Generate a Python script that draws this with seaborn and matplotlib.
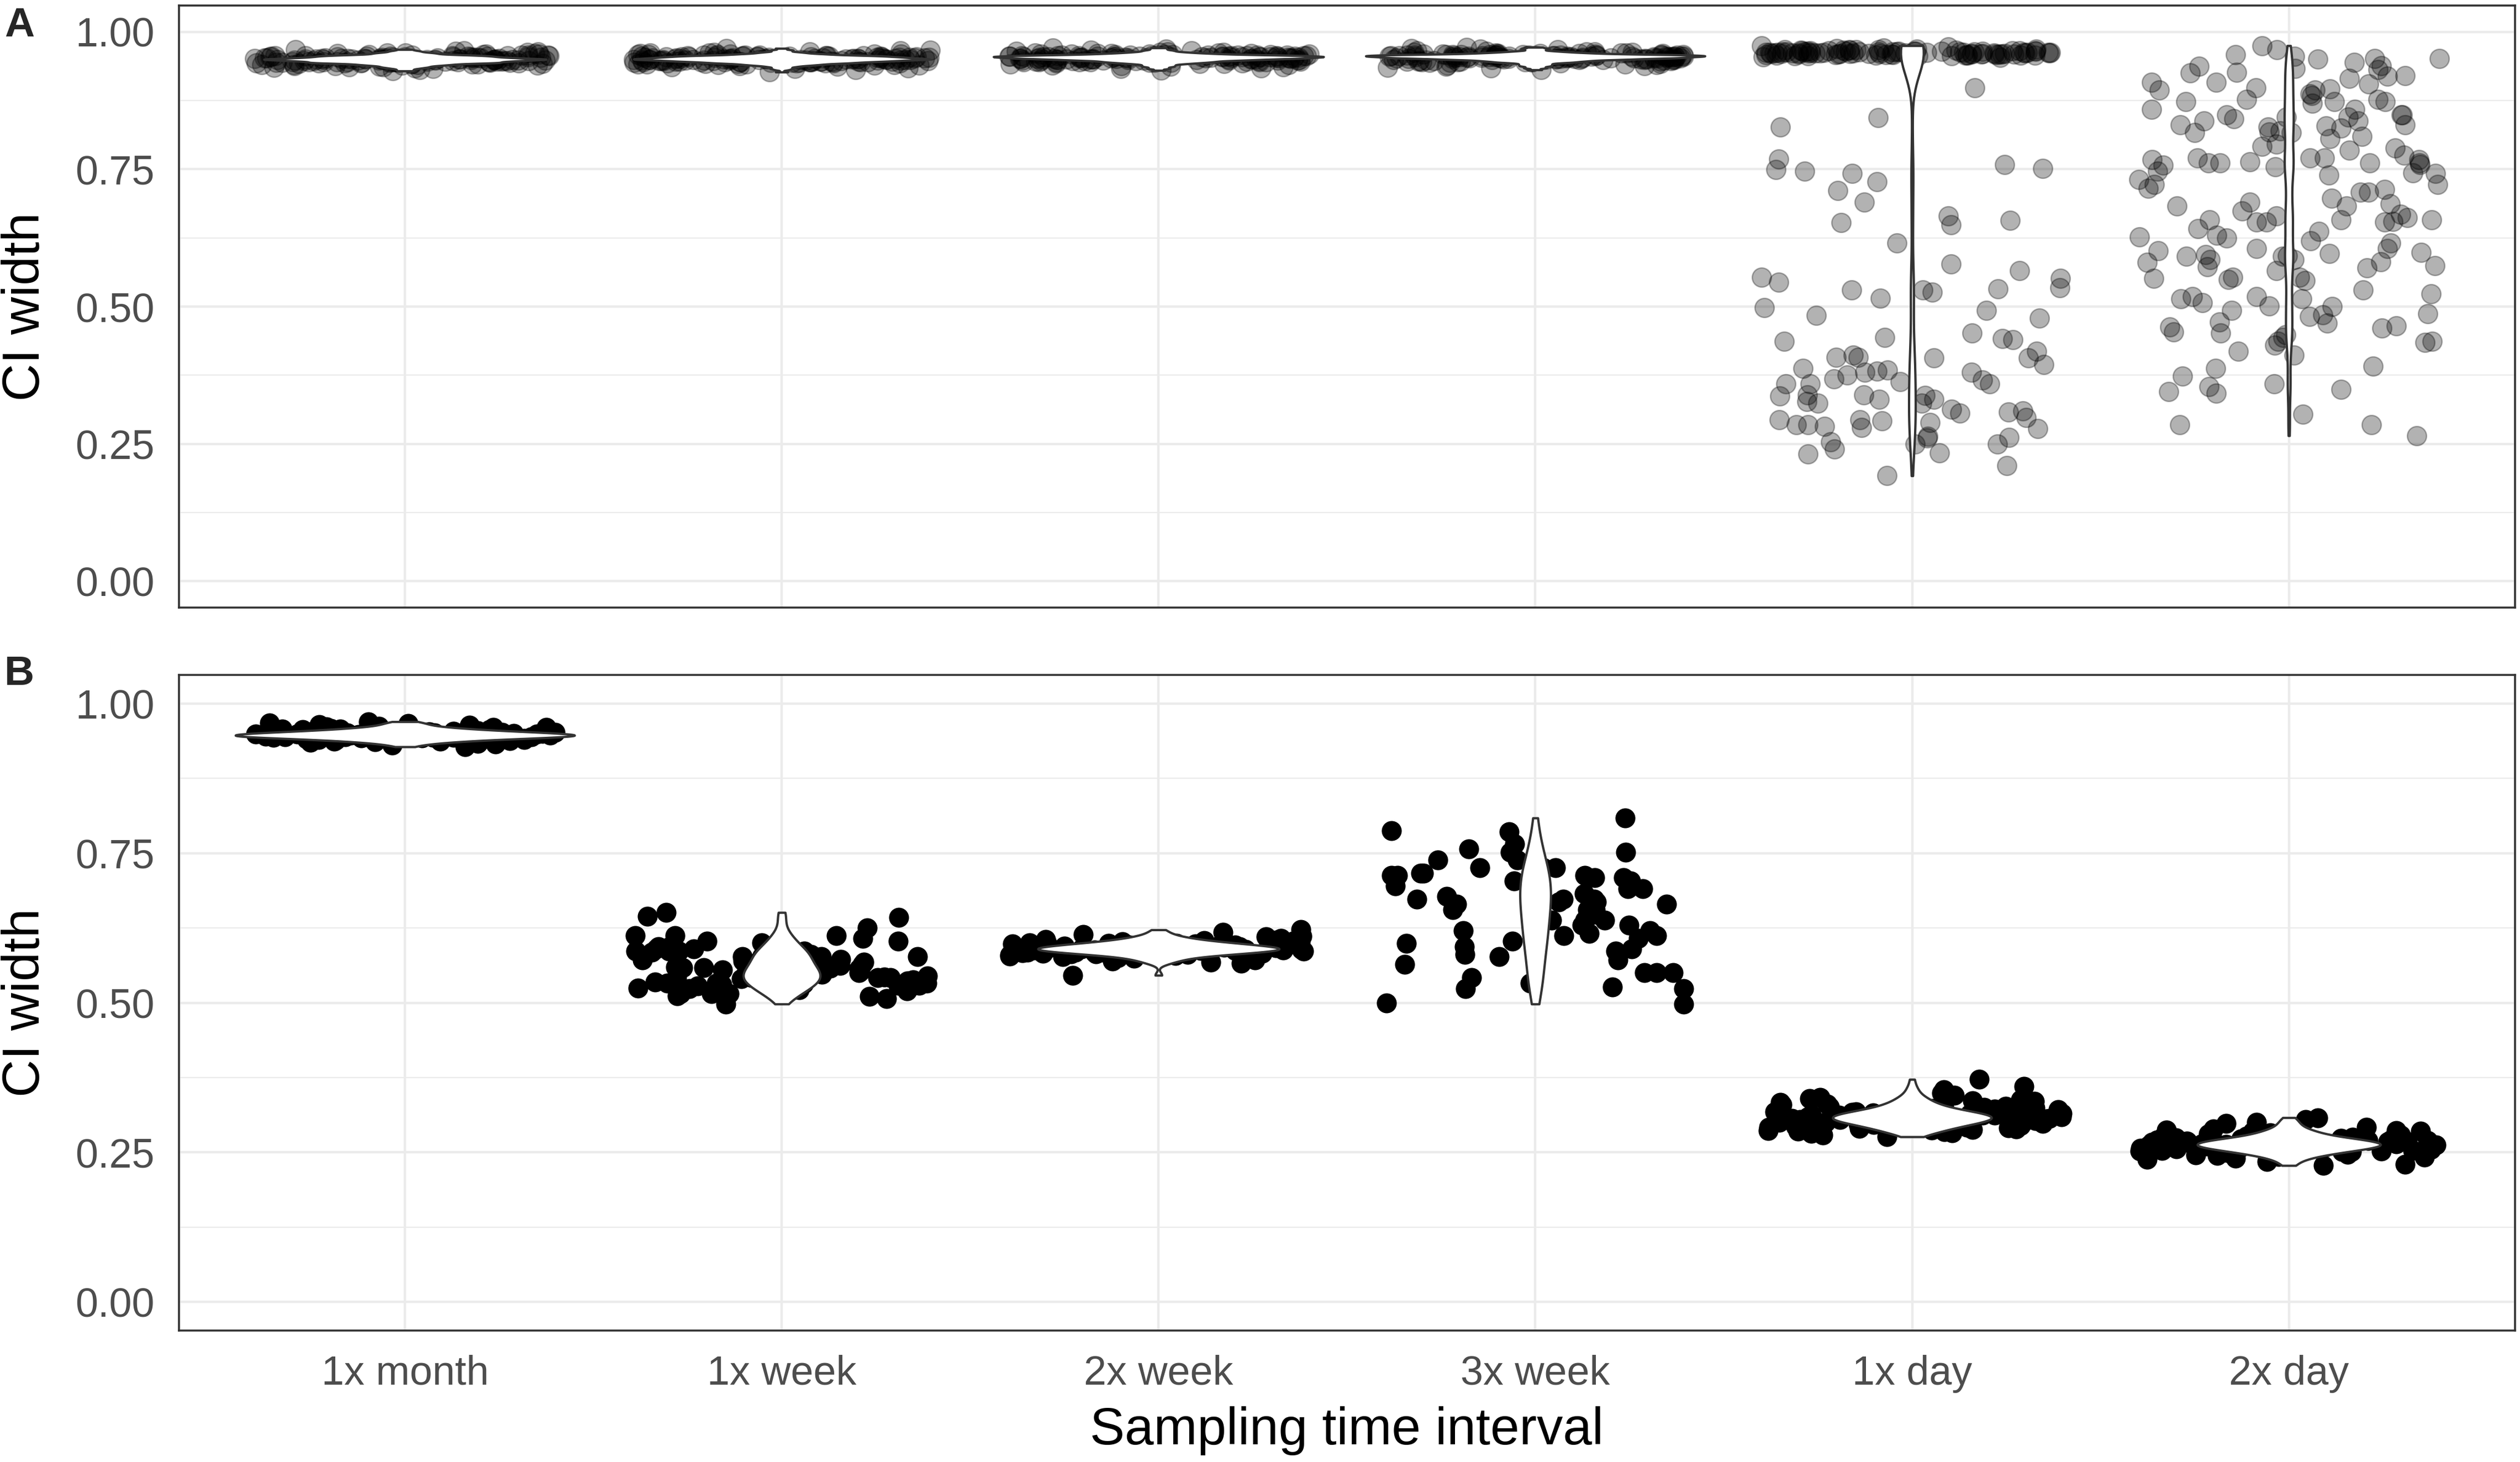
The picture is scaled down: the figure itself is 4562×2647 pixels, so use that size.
import numpy as np
import pandas as pd
import seaborn as sns
import matplotlib.pyplot as plt
from matplotlib.ticker import MultipleLocator, FormatStrFormatter

intervals = ['1x month', '1x week', '2x week', '3x week', '1x day', '2x day']

# panel A values
a_month = [0.950,0.946,0.953,0.941,0.957,0.949,0.962,0.944,0.938,0.955,0.951,0.947,0.959,0.935,0.952,0.948,
           0.943,0.956,0.961,0.940,0.950,0.954,0.945,0.931,0.958,0.949,0.942,0.953,0.965,0.947,0.951,0.939,
           0.956,0.944,0.952,0.948,0.960,0.936,0.950,0.955,0.946,0.943,0.957,0.951,0.929,0.953,0.949,0.963,
           0.945,0.941,0.954,0.950,0.947,0.958,0.937,0.952,0.944,0.956,0.948,0.966,0.942,0.951,0.955,0.946,
           0.933,0.953,0.949,0.960,0.944,0.950,0.957,0.940,0.952,0.947,0.954,0.945,0.968,0.949,0.951,0.943,
           0.948,0.952,0.944,0.956,0.950,0.941,0.954,0.947,0.958,0.945,0.951,0.939,0.953,0.949,0.961,0.946,
           0.950,0.955,0.942,0.948,0.957,0.944,0.952,0.936,0.949,0.954,0.947,0.959,0.943,0.951,0.946,0.956,
           0.940,0.953,0.948,0.964,0.945,0.950,0.955,0.938,0.952,0.947,0.957,0.944,0.950,0.953,0.934,0.949,
           0.958,0.946,0.951,0.943,0.955,0.948,0.962,0.950]
a_week1 = [0.951,0.955,0.947,0.960,0.943,0.952,0.949,0.957,0.939,0.954,0.950,0.946,0.962,0.953,0.941,0.956,
           0.948,0.958,0.936,0.951,0.945,0.953,0.967,0.949,0.944,0.955,0.950,0.927,0.957,0.947,0.952,0.940,
           0.959,0.948,0.954,0.943,0.950,0.961,0.946,0.953,0.938,0.956,0.949,0.951,0.944,0.970,0.952,0.947,
           0.955,0.942,0.958,0.950,0.934,0.953,0.948,0.956,0.945,0.951,0.963,0.949,0.954,0.941,0.957,0.946,
           0.952,0.950,0.931,0.955,0.948,0.959,0.943,0.951,0.956,0.947,0.953,0.939,0.950,0.964,0.945,0.954,
           0.949,0.953,0.946,0.957,0.951,0.942,0.955,0.948,0.960,0.944,0.952,0.950,0.937,0.954,0.947,0.958,
           0.945,0.951,0.956,0.949,0.940,0.953,0.947,0.962,0.950,0.955,0.943,0.952,0.948,0.957,0.946,0.951,
           0.933,0.954,0.949,0.959,0.944,0.952,0.956,0.947,0.950,0.966,0.945,0.953,0.948,0.955,0.941,0.951,
           0.957,0.946,0.952,0.949,0.954,0.943,0.960,0.950]
a_week2 = [0.954,0.950,0.958,0.946,0.961,0.953,0.957,0.943,0.955,0.949,0.964,0.952,0.940,0.956,0.951,0.959,
           0.947,0.954,0.971,0.950,0.945,0.957,0.953,0.962,0.930,0.955,0.948,0.958,0.952,0.944,0.956,0.960,
           0.949,0.954,0.937,0.957,0.951,0.966,0.953,0.946,0.955,0.959,0.942,0.952,0.956,0.950,0.963,0.948,
           0.954,0.958,0.933,0.955,0.951,0.957,0.945,0.960,0.953,0.949,0.956,0.969,0.952,0.947,0.955,0.958,
           0.941,0.954,0.950,0.961,0.956,0.944,0.953,0.957,0.948,0.955,0.936,0.952,0.959,0.951,0.954,0.965,
           0.953,0.957,0.949,0.960,0.955,0.946,0.952,0.958,0.943,0.956,0.951,0.962,0.954,0.948,0.957,0.939,
           0.955,0.950,0.959,0.953,0.945,0.956,0.952,0.967,0.949,0.954,0.958,0.942,0.955,0.951,0.960,0.947,
           0.953,0.956,0.934,0.952,0.957,0.950,0.954,0.963,0.948,0.955,0.951,0.958,0.944,0.953,0.956,0.949,
           0.961,0.952,0.955,0.938,0.957,0.951,0.954,0.946]
a_week3 = [0.955,0.959,0.951,0.962,0.948,0.956,0.953,0.960,0.945,0.957,0.954,0.966,0.950,0.958,0.942,0.955,
           0.961,0.952,0.957,0.947,0.972,0.954,0.959,0.950,0.956,0.934,0.958,0.953,0.963,0.949,0.955,0.960,
           0.944,0.957,0.952,0.968,0.954,0.951,0.958,0.939,0.956,0.961,0.953,0.947,0.955,0.959,0.950,0.964,
           0.952,0.957,0.931,0.954,0.958,0.949,0.956,0.962,0.953,0.945,0.957,0.955,0.970,0.951,0.958,0.954,
           0.941,0.956,0.960,0.952,0.948,0.957,0.963,0.955,0.950,0.953,0.937,0.959,0.956,0.952,0.958,0.946,
           0.954,0.958,0.950,0.961,0.956,0.947,0.953,0.959,0.944,0.957,0.952,0.965,0.955,0.949,0.958,0.940,
           0.956,0.951,0.960,0.954,0.946,0.957,0.953,0.969,0.950,0.955,0.959,0.943,0.956,0.952,0.961,0.948,
           0.954,0.957,0.935,0.953,0.958,0.951,0.955,0.964,0.949,0.956,0.952,0.959,0.945,0.954,0.957,0.950,
           0.962,0.953,0.956,0.938,0.958,0.952,0.955,0.947]
a_day1 = [0.962,0.965,0.958,0.968,0.960,0.963,0.966,0.957,0.961,0.964,0.969,0.959,0.962,0.967,0.955,0.963,
          0.960,0.965,0.970,0.958,0.962,0.964,0.961,0.966,0.956,0.963,0.968,0.960,0.959,0.965,0.962,0.971,
          0.957,0.964,0.961,0.963,0.967,0.960,0.958,0.962,0.965,0.973,0.959,0.963,0.961,0.966,0.964,0.957,
          0.962,0.968,0.960,0.963,0.965,0.958,0.961,0.964,0.954,0.966,0.962,0.969,0.960,0.963,0.959,0.965,
          0.961,0.967,0.962,0.958,0.964,0.963,0.960,0.966,0.975,0.961,0.962,0.959,0.965,0.963,0.957,0.964,
          0.963,0.960,0.966,0.961,0.964,0.958,0.962,0.967,0.960,0.965,0.962,0.959,0.964,0.961,0.968,0.963,
          0.898,0.827,0.769,0.751,0.758,0.711,0.690,0.657,0.665,0.653,0.616,0.565,0.553,0.551,0.526,0.484,
          0.442,0.437,0.444,0.407,0.408,0.407,0.380,0.359,0.339,0.337,0.331,0.324,0.338,0.308,0.298,0.285,
          0.280,0.192,0.382,0.384,0.363,0.359,0.412,0.380,0.331,0.327,0.313,0.292,0.278,0.262,0.254,0.241,
          0.250,0.289,0.498,0.577,0.515,0.532,0.493,0.479,0.452,0.419,0.375,0.339,0.294,0.310,0.285,0.264,
          0.250,0.211,0.844,0.746,0.727,0.749,0.742,0.649,0.544,0.534,0.530,0.530,0.440,0.387,0.408,0.394,
          0.368,0.366,0.359,0.324,0.306,0.282,0.294,0.261,0.234,0.232]
a_day2 = [0.975,0.952,0.959,0.952,0.937,0.968,0.956,0.951,0.944,0.931,0.915,0.938,0.920,0.926,0.919,0.933,
          0.908,0.925,0.905,0.896,0.894,0.894,0.908,0.898,0.887,0.873,0.873,0.859,0.884,0.873,0.877,0.877,
          0.870,0.859,0.849,0.845,0.849,0.842,0.838,0.849,0.838,0.831,0.820,0.845,0.831,0.817,0.818,0.827,
          0.817,0.829,0.825,0.806,0.810,0.796,0.789,0.771,0.776,0.792,0.785,0.771,0.757,0.768,0.764,0.768,
          0.771,0.761,0.761,0.742,0.758,0.754,0.761,0.746,0.761,0.739,0.743,0.731,0.713,0.708,0.683,0.683,
          0.722,0.708,0.697,0.690,0.674,0.715,0.722,0.687,0.658,0.654,0.665,0.655,0.642,0.658,0.658,0.654,
          0.668,0.654,0.662,0.637,0.625,0.630,0.627,0.620,0.616,0.595,0.592,0.574,0.606,0.599,0.606,0.593,
          0.597,0.602,0.586,0.570,0.572,0.551,0.581,0.592,0.586,0.582,0.565,0.553,0.553,0.549,0.547,0.530,
          0.518,0.501,0.500,0.487,0.472,0.518,0.482,0.514,0.485,0.437,0.452,0.444,0.454,0.412,0.523,0.514,
          0.507,0.493,0.470,0.465,0.430,0.449,0.461,0.463,0.435,0.437,0.419,0.391,0.387,0.373,0.342,0.349,
          0.345,0.359,0.354,0.304,0.285,0.285,0.265]

# panel B values
b_month = [0.947,0.943,0.951,0.938,0.955,0.945,0.949,0.960,0.941,0.952,0.946,0.935,0.958,0.944,0.950,0.948,
           0.964,0.940,0.953,0.946,0.931,0.956,0.949,0.943,0.951,0.967,0.945,0.939,0.954,0.947,0.942,0.957,
           0.950,0.936,0.948,0.961,0.944,0.952,0.946,0.928,0.955,0.949,0.941,0.953,0.945,0.959,0.947,0.937,
           0.951,0.943,0.970,0.948,0.954,0.940,0.946,0.950,0.933,0.956,0.944,0.949,0.962,0.942,0.953,0.947,
           0.938,0.951,0.945,0.958,0.948,0.934,0.952,0.946,0.965,0.943,0.950,0.939,0.955,0.947,0.944,0.968,
           0.946,0.950,0.942,0.954,0.948,0.940,0.952,0.945,0.957,0.943,0.949,0.937,0.951,0.947,0.960,0.944]
b_week1 = [0.645,0.612,0.612,0.603,0.581,0.577,0.586,0.590,0.559,0.550,0.542,0.533,0.542,0.533,0.568,0.529,
           0.515,0.511,0.515,0.529,0.542,0.586,0.625,0.643,0.612,0.651,0.603,0.586,0.577,0.542,0.515,0.572,
           0.550,0.586,0.559,0.550,0.533,0.533,0.498,0.507,0.586,0.533,0.559,0.608,0.594,0.594,0.559,0.564,
           0.550,0.577,0.537,0.542,0.550,0.577,0.550,0.524,0.560,0.545,0.530,0.575,0.520,0.555,0.540,0.565,
           0.585,0.525,0.548,0.570,0.535,0.518,0.562,0.552,0.580,0.528,0.543,0.590,0.557,0.512,0.538,0.568,
           0.547,0.600,0.532,0.558,0.522,0.573]
b_week2 = [0.592,0.588,0.597,0.583,0.601,0.590,0.585,0.605,0.579,0.594,0.587,0.610,0.582,0.596,0.591,0.575,
           0.599,0.586,0.603,0.593,0.570,0.589,0.598,0.584,0.607,0.591,0.580,0.595,0.588,0.614,0.577,0.593,
           0.600,0.586,0.590,0.566,0.597,0.583,0.604,0.589,0.594,0.578,0.601,0.587,0.592,0.618,0.581,0.596,
           0.590,0.585,0.572,0.599,0.588,0.606,0.584,0.593,0.546,0.591,0.602,0.586,0.595,0.579,0.589,0.611,
           0.583,0.597,0.592,0.574,0.600,0.587,0.594,0.582,0.608,0.590,0.585,0.598,0.568,0.593,0.622,0.588]
b_week3 = [0.786,0.766,0.788,0.752,0.739,0.717,0.704,0.713,0.717,0.713,0.726,0.704,0.691,0.665,0.678,0.678,
           0.673,0.647,0.665,0.630,0.621,0.599,0.603,0.612,0.608,0.612,0.630,0.581,0.594,0.564,0.550,0.542,
           0.524,0.500,0.752,0.726,0.713,0.682,0.669,0.656,0.673,0.616,0.586,0.577,0.550,0.533,0.524,0.498,
           0.757,0.739,0.709,0.809,0.726,0.695,0.669,0.673,0.638,0.621,0.590,0.572,0.550,0.526,0.656,0.638,
           0.691,0.656,0.638,0.709]
b_day1 = [0.312,0.305,0.318,0.298,0.322,0.309,0.301,0.327,0.295,0.315,0.307,0.331,0.292,0.313,0.304,0.336,
          0.288,0.310,0.319,0.299,0.342,0.306,0.314,0.285,0.324,0.302,0.311,0.296,0.329,0.308,0.317,0.283,
          0.349,0.303,0.313,0.297,0.321,0.306,0.291,0.333,0.310,0.300,0.316,0.279,0.326,0.305,0.312,0.294,
          0.338,0.308,0.320,0.289,0.303,0.314,0.355,0.298,0.311,0.325,0.286,0.307,0.318,0.301,0.345,0.293,
          0.315,0.309,0.330,0.282,0.304,0.360,0.312,0.297,0.323,0.306,0.372,0.290,0.316,0.302,0.335,0.276,
          0.309,0.296,0.319,0.303,0.287,0.314,0.300,0.326,0.292,0.311,0.305,0.340,0.298,0.317,0.284,0.307]
b_day2 = [0.265,0.260,0.270,0.256,0.274,0.263,0.258,0.279,0.252,0.267,0.261,0.284,0.249,0.268,0.259,0.272,
          0.245,0.264,0.276,0.255,0.289,0.262,0.269,0.242,0.271,0.257,0.266,0.251,0.281,0.260,0.273,0.238,
          0.295,0.259,0.267,0.253,0.277,0.263,0.247,0.286,0.265,0.256,0.270,0.235,0.279,0.261,0.268,0.250,
          0.292,0.258,0.274,0.244,0.264,0.269,0.300,0.254,0.266,0.282,0.240,0.262,0.271,0.257,0.298,0.248,
          0.267,0.260,0.283,0.230,0.263,0.305,0.268,0.252,0.275,0.259,0.308,0.246,0.270,0.255,0.287,0.228,
          0.262,0.256,0.271,0.249,0.266,0.259,0.278,0.253,0.264,0.243,0.269,0.257,0.285,0.261,0.251,0.273]


def long_table(groups):
    rows = []
    for name, vals in zip(intervals, groups):
        rows += [(name, v) for v in vals]
    return pd.DataFrame(rows, columns=['interval', 'ci_width'])


df_a = long_table([a_month, a_week1, a_week2, a_week3, a_day1, a_day2])
df_b = long_table([b_month, b_week1, b_week2, b_week3, b_day1, b_day2])

sns.set_theme(style='whitegrid')
plt.rcParams['font.family'] = ['Liberation Sans', 'DejaVu Sans']
np.random.seed(7)

fig = plt.figure(figsize=(22.81, 13.235), dpi=200)
ax_a = fig.add_axes([0.0710, 0.5844, 0.9270, 0.4118])
ax_b = fig.add_axes([0.0710, 0.0899, 0.9270, 0.4484])

sns.stripplot(data=df_a, x='interval', y='ci_width', order=intervals, jitter=0.4,
              color='black', alpha=0.3, size=12.5, linewidth=0.9, edgecolor='black',
              ax=ax_a, zorder=2)
sns.violinplot(data=df_a, x='interval', y='ci_width', order=intervals, color='white',
               linecolor='#333333', linewidth=1.5, inner=None, cut=0, density_norm='area',
               width=0.9, bw_adjust=0.4, ax=ax_a, zorder=3)

sns.stripplot(data=df_b, x='interval', y='ci_width', order=intervals, jitter=0.4,
              color='black', size=13, linewidth=0, ax=ax_b, zorder=2)
sns.violinplot(data=df_b, x='interval', y='ci_width', order=intervals, color='white',
               linecolor='#333333', linewidth=1.5, inner=None, cut=0, density_norm='area',
               width=0.9, ax=ax_b, zorder=3)

for ax in (ax_a, ax_b):
    ax.set_xlim(-0.6, 5.6)
    ax.set_ylim(-0.048, 1.048)
    ax.yaxis.set_major_locator(MultipleLocator(0.25))
    ax.yaxis.set_minor_locator(MultipleLocator(0.125))
    ax.yaxis.set_major_formatter(FormatStrFormatter('%.2f'))
    ax.set_axisbelow(True)
    ax.grid(which='major', color='#EBEBEB', linewidth=1.6)
    ax.grid(which='minor', axis='y', color='#EBEBEB', linewidth=0.8)
    for sp in ax.spines.values():
        sp.set_visible(True)
        sp.set_color('#333333')
        sp.set_linewidth(1.3)
    ax.tick_params(which='major', direction='out', length=7.8, width=1.4, color='#333333',
                   labelsize=26.5, labelcolor='#4D4D4D')
    ax.tick_params(axis='y', pad=8)
    ax.tick_params(axis='x', pad=8)
    ax.tick_params(which='minor', length=0)
    ax.set_ylabel('CI width', fontsize=34, color='black')
    ax.yaxis.set_label_coords(-0.0655, 0.5)
    ax.yaxis.label.set_verticalalignment('center')

ax_a.set_xlabel('')
ax_a.tick_params(axis='x', labelbottom=False)
ax_b.set_xlabel('Sampling time interval', fontsize=34, color='black')
ax_b.xaxis.set_label_coords(0.5, -0.153)
ax_b.xaxis.label.set_verticalalignment('center')

fig.text(0.0018, 0.9955, 'A', fontsize=27, fontweight='bold', ha='left', va='top')
fig.text(0.0018, 0.5520, 'B', fontsize=27, fontweight='bold', ha='left', va='top')

fig.savefig('out.png', dpi=200)
